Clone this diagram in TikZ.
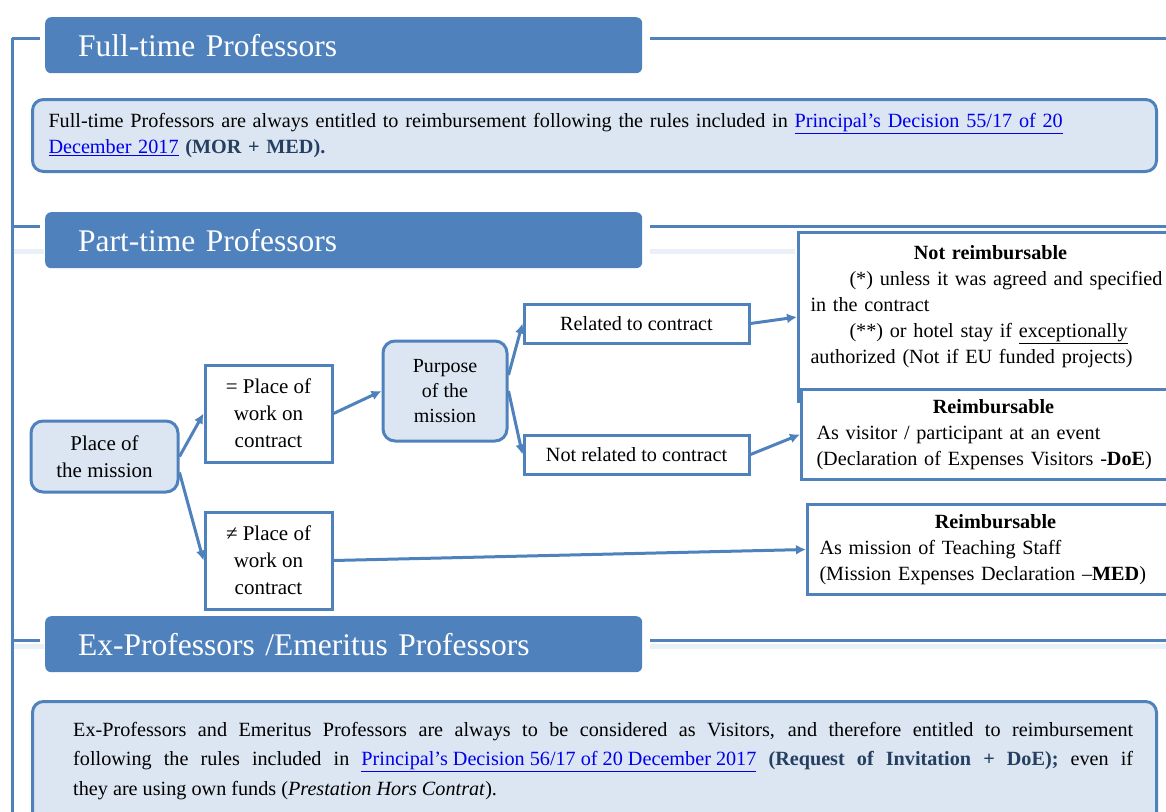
\documentclass[tikz,border=0pt]{standalone}
\usepackage{fontspec}
\setmainfont{Liberation Serif}
\usetikzlibrary{arrows.meta}

\definecolor{barblue}{HTML}{4F81BD}
\definecolor{paleblue}{HTML}{DCE6F2}
\definecolor{faintblue}{HTML}{EAF0F7}
\definecolor{linkblue}{HTML}{0000EE}
\definecolor{navytext}{HTML}{243F60}

\newcommand{\bodyfont}{\fontsize{20.2}{26}\selectfont}
\newcommand{\flowfont}{\fontsize{21}{27}\selectfont}
\newcommand{\doclink}[1]{\textcolor{linkblue}{\underline{#1}}}
\newcommand{\keyref}[1]{\textcolor{navytext}{\textbf{#1}}}

\begin{document}
\begin{tikzpicture}[x=1pt, y=-1pt,
  titlebar/.style={fill=barblue, rounded corners=6pt, text=white, anchor=north west,
    minimum width=597pt, minimum height=56pt, text width=531pt, inner xsep=33pt,
    align=left, font=\fontsize{31.5}{36}\selectfont},
  notebox/.style={draw=barblue, line width=3pt, fill=paleblue, rounded corners=11pt,
    anchor=north west, font=\bodyfont},
  choicebox/.style={draw=barblue, line width=3pt, fill=paleblue, rounded corners=12pt,
    align=center, font=\flowfont, inner sep=2pt},
  plainbox/.style={draw=barblue, line width=3pt, fill=white, align=center,
    font=\flowfont, inner sep=2pt},
  outcome/.style={draw=barblue, line width=3pt, fill=white, anchor=north west,
    font=\bodyfont, inner xsep=12pt},
  flow/.style={draw=barblue, line width=3pt, -{Latex[length=10pt,width=10pt]}},
  spine/.style={draw=barblue, line width=3pt},
  faint/.style={draw=faintblue, line width=5pt}]

\useasboundingbox (0,0) rectangle (1166,811);
\clip (0,0) rectangle (1166,811);

% left spine with its three stubs
\coordinate (spinetop) at (12,38);
\coordinate (spinebot) at (12,830);
\draw[spine] (spinetop) -- (spinebot);
\foreach \sy in {38,226,640}
  \draw[spine] (12,\sy) -- (40,\sy);

% faint shadow lines under the lower rules
\draw[faint] (14,251) -- (44,251);
\draw[faint] (650,251) -- (795,251);
\draw[faint] (14,646) -- (44,646);
\draw[faint] (650,646) -- (1166,646);

% section rules to the right
\foreach \sy in {38,226,640}
  \draw[spine] (650,\sy) -- (1166,\sy);

% ---- full-time
\node[titlebar] (fulltitle) at (45,17) {Full-time Professors};
\node[notebox, minimum width=1124pt, minimum height=72pt, text width=1092pt,
      inner xsep=16pt, align=left] (fullnote) at (31,98)
  {Full-time Professors are always entitled to reimbursement following the rules included in \doclink{Principal’s Decision 55/17 of 20}\\
   \doclink{December 2017} \keyref{(MOR + MED).}};

% ---- part-time
\node[titlebar] (parttitle) at (45,212) {Part-time Professors};

\node[choicebox, minimum width=147pt, minimum height=71pt] (mission) at (104.5,456.5)
  {Place of\\the mission};
\node[plainbox, minimum width=127pt, minimum height=97pt] (same) at (268.5,413.5)
  {= Place of\\work on\\contract};
\node[plainbox, minimum width=127pt, minimum height=97pt] (differ) at (268.5,560.5)
  {≠ Place of\\work on\\contract};
\node[choicebox, minimum width=124pt, minimum height=100pt, font=\fontsize{20}{25}\selectfont]
  (purpose) at (445,391) {Purpose\\of the\\mission};
\node[plainbox, minimum width=225pt, minimum height=39pt, font=\bodyfont] (related)
  at (636.5,323.5) {Related to contract};
\node[plainbox, minimum width=225pt, minimum height=39pt, font=\bodyfont] (notrelated)
  at (636.5,454.5) {Not related to contract};

\node[outcome, minimum height=169pt, text width=360pt] (notreimb) at (797,231)
  {\centering\textbf{Not reimbursable}\par
   \raggedright\hspace*{39pt}(*) unless it was agreed and specified\\
   in the contract\\
   \hspace*{39pt}(**) or hotel stay if \underline{exceptionally}\\
   authorized (Not if EU funded projects)\par\rule{0pt}{18pt}};
\node[outcome, minimum height=90pt, text width=354pt, inner xsep=15pt] (reimbvisit)
  at (800,388)
  {\centering\textbf{Reimbursable}\par
   \raggedright As visitor / participant at an event\\
   (Declaration of Expenses Visitors -\textbf{DoE})};
\node[outcome, minimum height=90pt, text width=352pt] (reimbmission) at (806,503)
  {\centering\textbf{Reimbursable}\par
   \raggedright As mission of Teaching Staff\\
   (Mission Expenses Declaration –\textbf{MED})};

\draw[flow] (mission.east) -- (same.west);
\draw[flow] ([yshift=-16pt]mission.east) -- (differ.west);
\draw[flow] (same.east) -- (purpose.west);
\draw[flow] ([yshift=16pt]purpose.east) -- (related.west);
\draw[flow] (purpose.east) -- (notrelated.west);
\draw[flow] (related.east) -- (notreimb.west);
\draw[flow] (notrelated.east) -- (reimbvisit.west);
\draw[flow] (differ.east) -- (reimbmission.west);

% ---- ex / emeritus
\node[titlebar] (extitle) at (45,616) {Ex-Professors /Emeritus Professors};
\node[notebox, minimum width=1124pt, minimum height=130pt] (exnote) at (31,700) {};
\node[anchor=north west, inner sep=0pt, text width=1060pt, align=justify,
      font=\fontsize{20.2}{29.5}\selectfont] (exnotetext) at (73,722)
  {Ex-Professors and Emeritus Professors are always to be considered as Visitors, and therefore entitled to reimbursement\linebreak
   following the rules included in \doclink{Principal’s Decision 56/17 of 20 December 2017} \keyref{(Request of Invitation + DoE);} even if\linebreak
   they are using own funds (\textit{Prestation Hors Contrat}).};

\end{tikzpicture}
\end{document}
